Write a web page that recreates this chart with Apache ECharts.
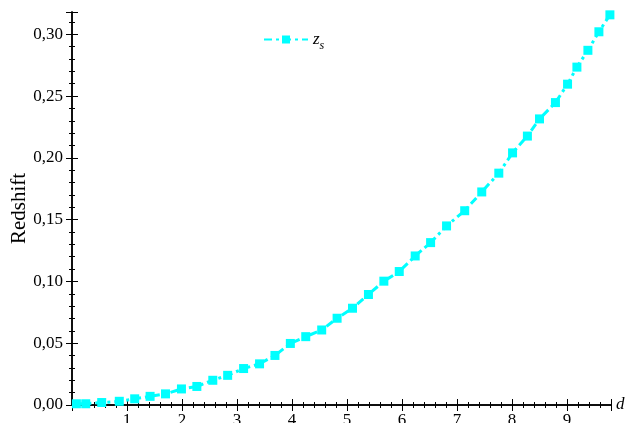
<!DOCTYPE html>
<html>
<head>
<meta charset="utf-8">
<script src="https://cdn.jsdelivr.net/npm/echarts@6/dist/echarts.min.js"></script>
<style>html,body{margin:0;padding:0;background:#fff;overflow:hidden;}#c{width:625px;height:423px;}</style>
</head>
<body>
<div id="c"></div>
<script>
// distance values (x axis)
var distance = [0.08, 0.25, 0.54, 0.86, 1.14, 1.42, 1.70, 1.99, 2.27, 2.56, 2.83,
  3.12, 3.41, 3.69, 3.97, 4.25, 4.54, 4.82, 5.10, 5.39, 5.67,
  5.95, 6.24, 6.52, 6.81, 7.14, 7.45, 7.76, 8.01, 8.28, 8.50,
  8.79, 9.01, 9.18, 9.38, 9.58, 9.78];
// redshift values
var redshift = [0.001, 0.001, 0.002, 0.003, 0.005, 0.007, 0.009, 0.013, 0.015, 0.020, 0.024,
  0.0295, 0.0333, 0.0401, 0.0498, 0.0553, 0.0607, 0.0702, 0.0783, 0.0894, 0.1002,
  0.108, 0.1206, 0.1314, 0.1449, 0.1572, 0.1724, 0.1876, 0.204, 0.2176, 0.2315,
  0.2447, 0.2596, 0.2734, 0.287, 0.302, 0.3157];
var xTickLabels = ['', '1', '2', '3', '4', '5', '6', '7', '8', '9'];
var seriesName = 'zs';

var pts = distance.map(function (d, i) { return [d, redshift[i]]; });
var font = 'Liberation Serif';
var chart = echarts.init(document.getElementById('c'), null, {renderer: 'canvas'});
function tick() { return {show: true, inside: true, length: 6, lineStyle: {color: '#000', width: 1}}; }
function minor() { return {show: true, splitNumber: 5, length: 3, lineStyle: {color: '#000', width: 1}}; }
function line() { return {show: true, lineStyle: {color: '#000', width: 1.5}}; }
chart.setOption({
  animation: false,
  backgroundColor: '#fff',
  grid: {left: 72, right: 14, top: 12, bottom: 18, containLabel: false, outerBoundsMode: 'none'},
  legend: {
    left: 258, top: 26,
    itemWidth: 44, itemHeight: 10, itemGap: 4,
    data: [{name: seriesName}],
    formatter: function () { return '{i|z}{s|s}'; },
    textStyle: {
      rich: {
        i: {fontFamily: font, fontStyle: 'italic', fontSize: 17, color: '#000'},
        s: {fontFamily: font, fontStyle: 'italic', fontSize: 12, color: '#000', padding: [12, 0, 0, 0]}
      }
    }
  },
  xAxis: [{
    type: 'value', min: 0, max: 9.8, interval: 1, position: 'bottom',
    name: 'd', nameLocation: 'end', nameGap: 5, nameMoveOverlap: false,
    nameTextStyle: {fontFamily: font, fontStyle: 'italic', fontSize: 17, color: '#000', padding: [6, 0, 0, 0], verticalAlign: 'middle'},
    axisLine: line(), axisTick: tick(), minorTick: minor(),
    splitLine: {show: false},
    axisLabel: {fontFamily: font, fontSize: 17, color: '#000', margin: 7, showMaxLabel: false,
      formatter: function (v) { return xTickLabels[Math.round(v)] || ''; }}
  }, {
    type: 'value', min: 0, max: 9.8, interval: 1, position: 'top',
    axisLine: line(), axisTick: tick(), minorTick: minor(),
    splitLine: {show: false}, axisLabel: {show: false}
  }],
  yAxis: [{
    type: 'value', min: 0, max: 0.318, interval: 0.05, position: 'left',
    name: 'Redshift', nameLocation: 'middle', nameGap: 42, nameRotate: 90, nameMoveOverlap: false,
    nameTextStyle: {fontFamily: font, fontSize: 21, color: '#000'},
    axisLine: line(), axisTick: tick(), minorTick: minor(),
    splitLine: {show: false},
    axisLabel: {fontFamily: font, fontSize: 17, color: '#000', margin: 9, showMaxLabel: false,
      formatter: function (v) { return v.toFixed(2).replace('.', ','); }}
  }, {
    type: 'value', min: 0, max: 0.318, interval: 0.05, position: 'right',
    axisLine: line(), axisTick: tick(), minorTick: minor(),
    splitLine: {show: false}, axisLabel: {show: false}
  }],
  series: [{
    name: seriesName, type: 'line', data: pts, xAxisIndex: 0, yAxisIndex: 0,
    symbol: 'rect', symbolSize: 9, showSymbol: true, clip: false,
    itemStyle: {color: '#00FFFF'},
    lineStyle: {color: '#00FFFF', width: 3, type: [8, 4, 3, 4]}
  }]
});
</script>
</body>
</html>
